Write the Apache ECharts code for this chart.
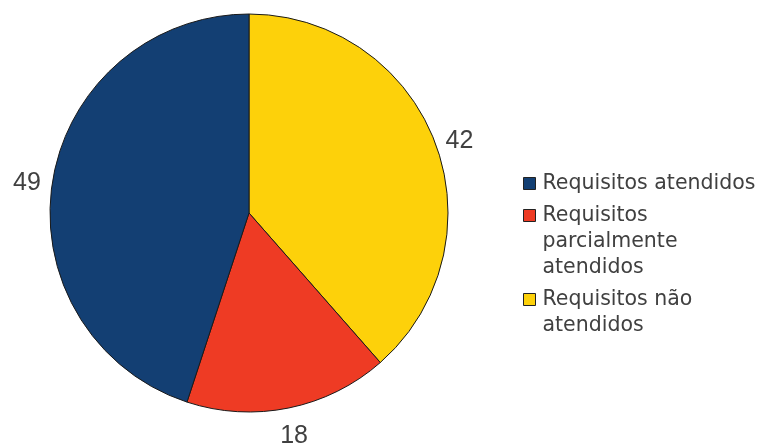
<!DOCTYPE html>
<html>
<head>
<meta charset="utf-8">
<script src="https://cdn.jsdelivr.net/npm/echarts@6/dist/echarts.min.js"></script>
<style>
  html, body { margin: 0; padding: 0; background: #ffffff; }
  #chart { width: 761px; height: 446px; }
</style>
</head>
<body>
<div id="chart"></div>
<script>
// Requirement status counts, in clockwise order from 12 o'clock
const categories = ['Requisitos não atendidos', 'Requisitos parcialmente atendidos', 'Requisitos atendidos'];
const values = [42, 18, 49];
const colors = ['#FDD10A', '#EE3B24', '#133F73'];

// Legend order and the wrapped text shown for each entry
const legendOrder = ['Requisitos atendidos', 'Requisitos parcialmente atendidos', 'Requisitos não atendidos'];
const legendText = ['Requisitos atendidos', 'Requisitos\nparcialmente\natendidos', 'Requisitos não\natendidos'];

const LINE_H = 26;     // legend line height
const MARK = 12;       // legend square size
const MARK_BOX = 14;   // square plus spacing before the text

// A legend marker whose square sits beside the first line of an n-line entry:
// the path spans the full text block, only the square is filled.
function markerPath(lines) {
  const h = lines * LINE_H;
  const top = LINE_H / 2 - MARK / 2;
  return 'path://M0,0L0,0' +
    'M0,' + top + 'h' + MARK + 'v' + MARK + 'h-' + MARK + 'z' +
    'M' + MARK_BOX + ',' + h + 'L' + MARK_BOX + ',' + h;
}

const chart = echarts.init(document.getElementById('chart'), null, { renderer: 'canvas' });

// Value labels sit just outside the rim, pushed mostly sideways
function placeLabel(params) {
  const layout = chart.getModel().getSeriesByIndex(0).getData().getItemLayout(params.dataIndex);
  const mid = (layout.startAngle + layout.endAngle) / 2;
  const c = Math.cos(mid), s = Math.sin(mid);
  const ax = layout.cx + layout.r * c;
  const ay = layout.cy + layout.r * s;
  const w = params.labelRect.width, h = params.labelRect.height;
  return {
    x: ax + c * (12 + w / 2),
    y: ay + s * Math.abs(s) * (15 + h / 2) + 2,
    align: 'center',
    verticalAlign: 'middle'
  };
}

chart.setOption({
  animation: false,
  backgroundColor: '#ffffff',
  legend: {
    orient: 'vertical',
    left: 523,
    top: 170,
    padding: 0,
    itemGap: 5,
    itemWidth: MARK_BOX,
    itemHeight: 200,
    symbolKeepAspect: true,
    selectedMode: false,
    itemStyle: { borderColor: '#222222', borderWidth: 1 },
    textStyle: {
      fontFamily: 'DejaVu Sans',
      fontSize: 20.5,
      color: '#404040',
      lineHeight: LINE_H
    },
    data: legendOrder.map((name, i) => ({
      name: name,
      icon: markerPath(legendText[i].split('\n').length)
    })),
    formatter: name => legendText[legendOrder.indexOf(name)]
  },
  series: [{
    type: 'pie',
    center: [249, 213],
    radius: 199,
    startAngle: 90,
    clockwise: true,
    avoidLabelOverlap: false,
    itemStyle: { borderColor: '#1a1a1a', borderWidth: 1 },
    emphasis: { disabled: true },
    label: {
      show: true,
      position: 'outside',
      formatter: '{c}',
      fontFamily: 'Liberation Sans',
      fontSize: 25,
      color: '#404040'
    },
    labelLine: { show: false },
    labelLayout: placeLabel,
    data: categories.map((name, i) => ({
      name: name,
      value: values[i],
      itemStyle: { color: colors[i] }
    }))
  }]
});
</script>
</body>
</html>
